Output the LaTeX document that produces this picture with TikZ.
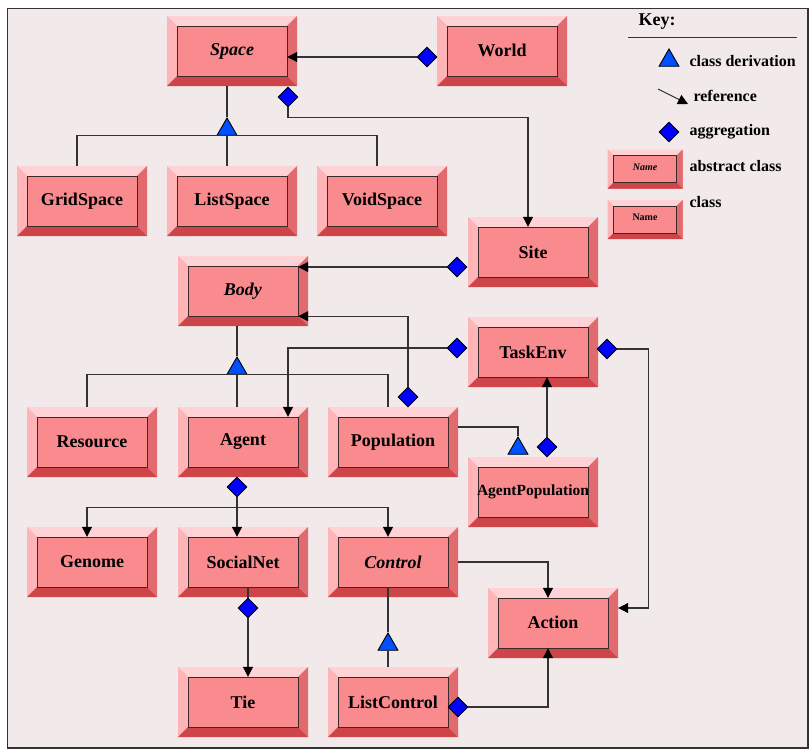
\documentclass[tikz,border=0pt]{standalone}
\usepackage{fontspec}
\setmainfont{Liberation Serif}
\usetikzlibrary{arrows.meta,positioning,shapes.geometric,calc}
\definecolor{bg}{HTML}{F2EAEA}
\definecolor{face}{HTML}{F98B8F}
\definecolor{bvtop}{HTML}{FFD2D5}
\definecolor{bvleft}{HTML}{FFB5B8}
\definecolor{bvright}{HTML}{E06A6E}
\definecolor{bvbot}{HTML}{CD4549}
\definecolor{edge}{HTML}{3A2A2A}
\definecolor{wirec}{HTML}{333333}
\definecolor{aggblue}{HTML}{0000FF}
\definecolor{derblue}{HTML}{0050FF}
\newcommand{\cfont}{\fontsize{18}{20}\selectfont\bfseries}
\newcommand{\kfont}{\fontsize{16}{18}\selectfont\bfseries}
\tikzset{
  bevel/.style={fill=face,inner sep=0pt,path picture={
      \coordinate (po1) at (path picture bounding box.north west);
      \coordinate (po2) at (path picture bounding box.north east);
      \coordinate (po3) at (path picture bounding box.south east);
      \coordinate (po4) at (path picture bounding box.south west);
      \coordinate (pi1) at ([xshift=#1,yshift=-#1]po1);
      \coordinate (pi2) at ([xshift=-#1,yshift=-#1]po2);
      \coordinate (pi3) at ([xshift=-#1,yshift=#1]po3);
      \coordinate (pi4) at ([xshift=#1,yshift=#1]po4);
      \fill[bvtop] (po1) -- (po2) -- (pi2) -- (pi1) -- cycle;
      \fill[bvleft] (po1) -- (pi1) -- (pi4) -- (po4) -- cycle;
      \fill[bvright] (po2) -- (pi2) -- (pi3) -- (po3) -- cycle;
      \fill[bvbot] (po4) -- (pi4) -- (pi3) -- (po3) -- cycle;
      \draw[edge,line width=0.8pt] (pi1) rectangle (pi3);
  }},
  cls/.style={bevel=10pt,minimum width=130pt,minimum height=70pt,font=\cfont},
  keycls/.style={bevel=6pt,minimum width=75pt,minimum height=39pt,font=\fontsize{10}{12}\selectfont\bfseries},
  wire/.style={draw=wirec,line width=1.1pt},
  tip/.style={-{Triangle[length=10pt,width=10pt,color=black]}},
  ref/.style={wire,tip,shorten >=-10pt},
  agg/.style={diamond,draw=black,fill=aggblue,minimum width=20pt,minimum height=20pt,inner sep=0pt,line width=0.9pt},
  deriv/.style={regular polygon,regular polygon sides=3,draw=black,fill=derblue,minimum size=23pt,inner sep=0pt,line width=0.9pt},
  keytxt/.style={anchor=west,font=\kfont},
}
\begin{document}
\begin{tikzpicture}[x=1pt,y=-1pt,font=\cfont]
  \useasboundingbox (0,0) rectangle (809,753);
  \fill[white] (0,0) rectangle (809,753);
  \draw[wirec,line width=1.5pt,fill=bg] (7.5,8.5) rectangle (808,748);

  % classes
  \node[cls] (space) at (232,51) {\raisebox{2pt}{\textit{Space}}};
  \node[cls] (world) at (502,51) {\raisebox{2pt}{World}};
  \node[cls] (gridspace) at (82,201) {GridSpace};
  \node[cls] (listspace) at (232,201) {ListSpace};
  \node[cls] (voidspace) at (382,201) {VoidSpace};
  \node[cls] (site) at (533,252) {Site};
  \node[cls] (body) at (243,291) {\raisebox{2pt}{\textit{Body}}};
  \node[cls] (taskenv) at (533,352) {TaskEnv};
  \node[cls] (resource) at (92,442) {Resource};
  \node[cls] (agent) at (243,442) {\raisebox{4pt}{Agent}};
  \node[cls] (population) at (393,442) {Population};
  \node[cls,font=\fontsize{15.5}{18}\selectfont\bfseries] (agentpop) at (533,492) {AgentPopulation};
  \node[cls] (genome) at (92,562) {Genome};
  \node[cls] (socialnet) at (243,562) {SocialNet};
  \node[cls] (control) at (393,562) {\textit{Control}};
  \node[cls] (action) at (553,623) {\raisebox{2pt}{Action}};
  \node[cls] (tie) at (243,702) {Tie};
  \node[cls] (listcontrol) at (393,702) {ListControl};

  % markers
  \node[agg] (dWorld) at (427,57) {};
  \node[agg] (dSpace) at (288,97) {};
  \node[deriv] (tSpace) at (227,129.5) {};
  \node[agg] (dSite) at (457,267) {};
  \node[agg] (dPop) at (408,397) {};
  \node[deriv] (tBody) at (237,368.5) {};
  \node[agg] (dTaskL) at (457,348) {};
  \node[agg] (dTaskR) at (607,349) {};
  \node[agg] (dAP) at (547,447) {};
  \node[deriv] (tAP) at (518,448.5) {};
  \node[agg] (dAgent) at (237,487) {};
  \node[agg] (dSocial) at (248,608) {};
  \node[deriv] (tCtrl) at (388,644.5) {};
  \node[agg] (dLC) at (458,707) {};

  % connectors
  \draw[ref] (dWorld.west) -- (dWorld -| space.east);
  \draw[ref] (dSpace.south) -- ++(0,10) -| ([xshift=-5pt]site.north);
  \draw[wire] ([xshift=-5pt]space.south) -- (tSpace.north);
  \draw[wire] ([xshift=-5pt]gridspace.north) |- (tSpace.south) -| ([xshift=-5pt]voidspace.north);
  \draw[wire] (tSpace.south) -- ([xshift=-5pt]listspace.north);
  \draw[ref] (dSite.west) -- (dSite -| body.east);
  \draw[ref] (dPop.north) |- ([yshift=10pt]body.south east);
  \draw[wire] ([xshift=-6pt]body.south) -- (tBody.north);
  \draw[wire] ([xshift=-5pt]resource.north) |- (tBody.south) -| ([xshift=-5pt]population.north);
  \draw[wire] (tBody.south) -- ([xshift=-6pt]agent.north);
  \draw[ref] (dTaskL.west) -| ([xshift=45pt]agent.north);
  \draw[ref,shorten >=0pt] (dTaskR.east) -- ++(31,0) |- ([yshift=15pt]action.east);
  \draw[ref] (dAP.north) -- (dAP |- taskenv.south);
  \draw[wire] ([yshift=15pt]population.east) -| (tAP.north);
  \draw[wire] (dAgent.south) -- ++(0,10) coordinate (fork);
  \draw[ref] (fork) -| ([xshift=-5pt]genome.north);
  \draw[ref] (fork) -- ([xshift=-6pt]socialnet.north);
  \draw[ref] (fork) -| ([xshift=-5pt]control.north);
  \draw[ref] (control.east) -| ([xshift=-5pt]action.north);
  \draw[wire] ([xshift=5pt,yshift=10pt]socialnet.south) -- (dSocial.north);
  \draw[ref] (dSocial.south) -- (dSocial |- tie.north);
  \draw[wire] ([xshift=-5pt,yshift=10pt]control.south) -- (tCtrl.north);
  \draw[wire] (tCtrl.south) -- (tCtrl |- listcontrol.north);
  \draw[ref] (dLC.east) -| ([xshift=-5pt]action.south);

  % key
  \node (keyhead) at (657,22) {Key:};
  \draw[wirec,line width=1pt] (628,37) -- (797,37);
  \node[deriv] (kTri) at (669,60.5) {};
  \node[keytxt] (kDer) at (686,61) {class derivation};
  \coordinate (kA) at (658,89);
  \coordinate (kB) at (688,104);
  \draw[wire,tip] (kA) -- (kB);
  \node[keytxt] (kRef) at (690,96) {reference};
  \node[agg] (kAgg) at (669,132) {};
  \node[keytxt] (kAggT) at (686,132) {aggregation};
  \node[keycls] (kAbs) at (645,169) {\raisebox{3pt}{\textit{Name}}\hspace{12pt}};
  \node[keytxt] (kAbsT) at (686,166) {abstract class};
  \node[keycls] (kCls) at (645,219.5) {\raisebox{5pt}{Name}\hspace{10pt}};
  \node[keytxt] (kClsT) at (686,202) {class};
\end{tikzpicture}
\end{document}
